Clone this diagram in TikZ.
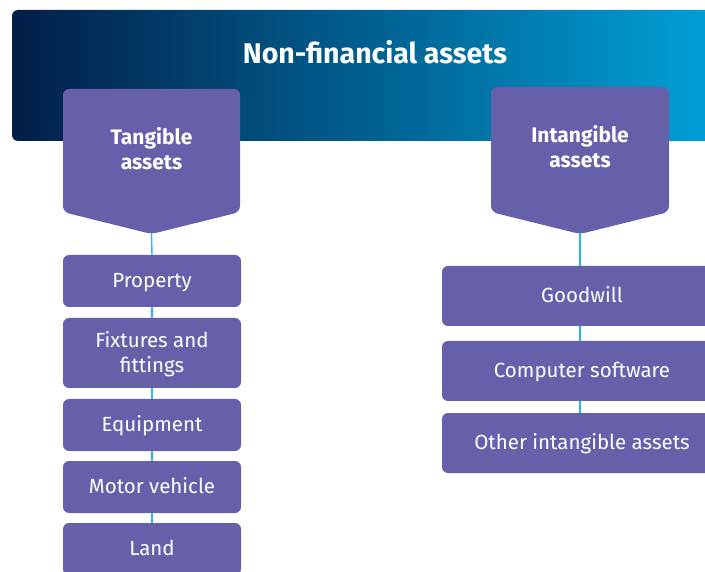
\documentclass[tikz,border=0pt]{standalone}
\usepackage{fontspec}
\setmainfont{Fira Sans}
\usepackage{tikz}
\definecolor{bannerdark}{RGB}{2,30,72}
\definecolor{bannermid}{RGB}{0,84,136}
\definecolor{bannerlight}{RGB}{0,165,220}
\definecolor{assetpurple}{RGB}{102,96,171}
\definecolor{linkcyan}{RGB}{43,182,232}

\begin{document}
\begin{tikzpicture}[
    x=1pt, y=-1pt,
    head/.style={
      text=white, font=\fontsize{21}{25}\selectfont\bfseries,
      align=center, inner sep=0pt,
    },
    item/.style={
      rectangle, rounded corners=6pt,
      minimum height=52pt, minimum width=178pt,
      fill=assetpurple, draw=none,
      text=white, font=\fontsize{20.5}{25}\selectfont,
      align=center, inner sep=3pt, text depth=2pt,
    },
    wideitem/.style={item, minimum width=280pt, minimum height=60pt},
    link/.style={draw=linkcyan, line width=1.4pt},
  ]
  \clip (0,0) rectangle (705,572);

  % ---- Banner ----
  \shade[left color=bannerdark, middle color=bannermid, right color=bannerlight,
    rounded corners=6pt] (12,10) rectangle (740,141);
  \node[text=white, font=\fontsize{28.5}{32}\selectfont\bfseries] (title) at (375,52) {Non-financial assets};

  % ---- Tangible column ----
  \fill[assetpurple, rounded corners=6pt] (63,89) -- (240,89) -- (240,212) -- (151.5,234) -- (63,212) -- cycle;
  \coordinate (tantip) at (151.5,233);
  \node[head] (tan) at (151.5,149) {Tangible\\assets};

  \node[item] (prop)  at (152,281) {Property};
  \node[item, minimum height=70pt] (fix) at (152,353) {Fixtures and\\fittings};
  \node[item] (equip) at (152,425) {Equipment};
  \node[item] (motor) at (152,487) {Motor vehicle};
  \node[item] (land)  at (152,549) {Land};

  \draw[link] (tantip) -- (prop.north);
  \draw[link] (prop) -- (fix);
  \draw[link] (fix) -- (equip);
  \draw[link] (equip) -- (motor);
  \draw[link] (motor) -- (land);

  % ---- Intangible column ----
  \fill[assetpurple, rounded corners=6pt] (491,87) -- (669,87) -- (669,212) -- (580,234) -- (491,212) -- cycle;
  \coordinate (intip) at (580,233);
  \node[head] (intan) at (580,147) {Intangible\\assets};

  \node[wideitem] (good) at (582,296) {Goodwill};
  \node[wideitem] (soft) at (582,371) {Computer software};
  \node[wideitem] (other) at (582,443) {Other intangible assets};

  \draw[link] (intip) -- (intip |- good.north);
  \draw[link] (good.south -| intip) -- (soft.north -| intip);
  \draw[link] (soft.south -| intip) -- (other.north -| intip);

\end{tikzpicture}
\end{document}
